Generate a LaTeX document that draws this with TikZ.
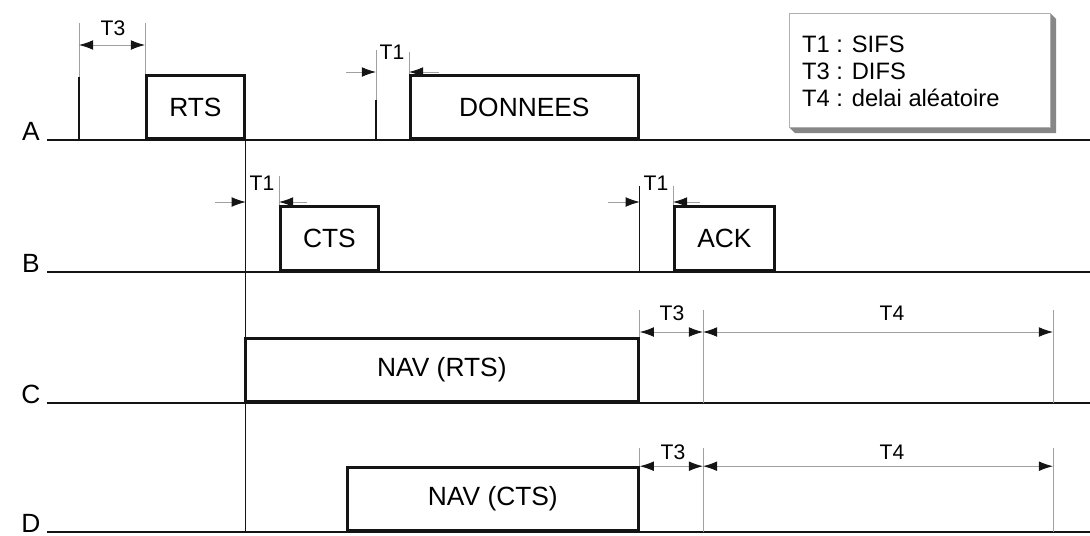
\documentclass[tikz,border=0pt]{standalone}
\usepackage{fontspec}
\setmainfont{Liberation Sans}
\usepackage{tikz}
\usetikzlibrary{arrows.meta, positioning, calc}
\definecolor{dimgray}{RGB}{160,160,160}
\definecolor{shadegray}{RGB}{135,135,135}
\definecolor{framegray}{RGB}{175,175,175}
\definecolor{inkblack}{RGB}{20,20,20}
\tikzset{
  pkt/.style={rectangle, draw=inkblack, fill=white, line width=1.6pt,
    inner sep=0pt, minimum height=1.26cm, anchor=south west,
    font=\fontsize{15}{17}\selectfont},
  timeline/.style={line width=0.9pt, color=inkblack},
  extline/.style={line width=0.5pt, color=dimgray},
  timetick/.style={line width=0.6pt, color=inkblack},
  dimarrow/.style={line width=0.5pt, color=dimgray,
    {Latex[length=8pt,width=5.5pt,color=inkblack]}-{Latex[length=8pt,width=5.5pt,color=inkblack]}},
  inarrow/.style={line width=0.5pt, color=dimgray,
    -{Latex[length=8pt,width=5.5pt,color=inkblack]}},
  tlabel/.style={font=\fontsize{12}{13}\selectfont},
  station/.style={font=\fontsize{15}{17}\selectfont, anchor=base},
  legbox/.style={rectangle, draw=framegray, fill=white, line width=0.6pt,
    inner sep=0pt, minimum width=5.22cm, minimum height=2.28cm, anchor=north west},
  legtext/.style={font=\fontsize{13.5}{15}\selectfont, anchor=base west}
}

\begin{document}
\begin{tikzpicture}[x=0.02cm, y=-0.02cm]
  \useasboundingbox (0,0) rectangle (1090,535);

  % Station time lines
  \foreach \st/\yy in {A/140, B/272, C/403, D/532}{
    \node[station] (lbl\st) at (31,\yy) {\st};
    \coordinate (end\st) at (1090,\yy);
    \draw[timeline] (47,\yy) -- (end\st);
  }

  % Frames
  \node[pkt, minimum width=1.96cm] (rts) at (145,140) {RTS};
  \node[pkt, minimum width=4.56cm] (donnees) at (409,140) {DONNEES};
  \node[pkt, minimum width=1.96cm, minimum height=1.28cm] (cts) at (279,272) {CTS};
  \node[pkt, minimum width=2.0cm, minimum height=1.28cm] (ack) at (673,272) {ACK};
  \node[pkt, minimum width=7.86cm] (navrts) at (244,403) {NAV (RTS)};
  \node[pkt, minimum width=5.82cm] (navcts) at (346,532) {NAV (CTS)};

  % End of RTS, down to D
  \draw[timetick] (rts.south east) -- (rts.south east |- navcts.south);

  % A : T3 before RTS
  \coordinate (a0) at (79,140);
  \draw[timetick] (a0) -- (79,77);
  \draw[extline] (79,77) -- (79,23);
  \draw[extline] (rts.north west) -- (rts.north west |- 0,23);
  \draw[dimarrow] (a0 |- 0,45) -- (rts.west |- 0,45);
  \node[tlabel] (ta3) at (113,28) {T3};

  % A : T1 before DONNEES
  \coordinate (a1) at (376,140);
  \draw[timetick] (a1) -- (376,100);
  \draw[extline] (376,100) -- (376,50);
  \draw[extline] (donnees.north west) -- (donnees.north west |- 0,52);
  \draw[inarrow] (346,72) -- (a1 |- 0,72);
  \draw[inarrow] (439,72) -- (donnees.west |- 0,72);
  \node[tlabel] (ta1) at (392,52) {T1};

  % B : T1 before CTS
  \draw[extline] (cts.north west) -- (cts.north west |- 0,176);
  \draw[inarrow] (215,202) -- (rts.east |- 0,202);
  \draw[inarrow] (307,202) -- (cts.west |- 0,202);
  \node[tlabel] (tb1) at (262,183) {T1};

  % B : T1 before ACK
  \draw[timetick] (donnees.east |- cts.south) -- (donnees.east |- 0,186);
  \draw[extline] (ack.north west) -- (ack.north west |- 0,186);
  \draw[inarrow] (608,202) -- (donnees.east |- 0,202);
  \draw[inarrow] (700,202) -- (ack.west |- 0,202);
  \node[tlabel] (tb2) at (656,183) {T1};

  % C : T3 then T4
  \coordinate (c3) at (703,403);
  \coordinate (c4) at (1053,403);
  \draw[extline] (navrts.north east) -- (navrts.north east |- 0,310);
  \draw[extline] (c3) -- (c3 |- 0,310);
  \draw[extline] (c4) -- (c4 |- 0,310);
  \draw[dimarrow] (navrts.east |- 0,332) -- (c3 |- 0,332);
  \draw[dimarrow] (c3 |- 0,332) -- (c4 |- 0,332);
  \node[tlabel] (tc3) at (672,313) {T3};
  \node[tlabel] (tc4) at (892,313) {T4};

  % D : T3 then T4
  \coordinate (d3) at (703,532);
  \coordinate (d4) at (1053,532);
  \draw[extline] (navcts.north east) -- (navcts.north east |- 0,448);
  \draw[extline] (d3) -- (d3 |- 0,448);
  \draw[extline] (d4) -- (d4 |- 0,448);
  \draw[dimarrow] (navcts.north east) -- (d3 |- navcts.north);
  \draw[dimarrow] (d3 |- navcts.north) -- (d4 |- navcts.north);
  \node[tlabel] (td3) at (673,452) {T3};
  \node[tlabel] (td4) at (892,452) {T4};

  % Legend
  \fill[shadegray] (1050,13) -- (1056,19) -- (1056,133) -- (795,133) -- (789,127) -- (1050,127) -- cycle;
  \node[legbox] (legend) at (789,13) {};
  \foreach \txt [count=\i] in {T1 : SIFS, T3 : DIFS, T4 : delai aléatoire}
    \node[legtext] (leg\i) at (796,25+27*\i) {\txt};

\end{tikzpicture}
\end{document}
